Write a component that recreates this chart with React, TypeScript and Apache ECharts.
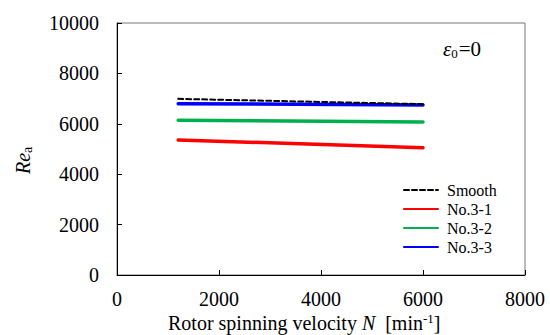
import React, { useEffect, useRef } from "react";
import * as echarts from "echarts";

const seriesNames = ["Smooth", "No.3-1", "No.3-2", "No.3-3"];
const speeds = [1200, 6000];
const smoothRe = [6990, 6780];
const no31Re = [5360, 5050];
const no32Re = [6140, 6070];
const no33Re = [6800, 6745];
const xTicks = [0, 2000, 4000, 6000, 8000];
const yTicks = [0, 2000, 4000, 6000, 8000, 10000];

const FONT = "serif";

export default function App() {
  const ref = useRef<HTMLDivElement>(null);
  useEffect(() => {
    document.body.style.margin = "0";
    if (!ref.current) return;
    const chart = echarts.init(ref.current, null, { renderer: "svg" });
    const mk = (vals: number[]) => speeds.map((s, i) => [s, vals[i]]);
    const colors = ["#000000", "#ff0000", "#00b050", "#0000ff"];
    const data = [smoothRe, no31Re, no32Re, no33Re];
    chart.setOption({
      animation: false,
      backgroundColor: "#ffffff",
      textStyle: { fontFamily: FONT },
      grid: {
        left: 117,
        top: 23,
        width: 408,
        height: 252,
        show: true,
        borderColor: "#777777",
        borderWidth: 1,
        backgroundColor: "transparent",
      },
      xAxis: {
        type: "value",
        min: xTicks[0],
        max: xTicks[xTicks.length - 1],
        interval: 2000,
        axisLine: { show: true, lineStyle: { color: "#000", width: 1 } },
        axisTick: { show: true, inside: true, length: 5, lineStyle: { color: "#000" } },
        splitLine: { show: false },
        axisLabel: { show: false },
      },
      yAxis: {
        type: "value",
        min: yTicks[0],
        max: yTicks[yTicks.length - 1],
        interval: 2000,
        axisLine: { show: true, lineStyle: { color: "#000", width: 1 } },
        axisTick: { show: true, inside: true, length: 5, lineStyle: { color: "#000" } },
        splitLine: { show: false },
        axisLabel: { show: false },
      },
      legend: {
        orient: "vertical",
        left: 398,
        top: 177,
        itemWidth: 34,
        itemHeight: 10,
        itemGap: 3,
        data: seriesNames,
        itemStyle: { opacity: 0 },
        lineStyle: { width: 2 },
        textStyle: { color: "#000", fontSize: 16, fontFamily: FONT, padding: [0, 0, 0, 4] },
        selectedMode: false,
      },
      series: seriesNames.map((name, i) => ({
        name,
        type: "line",
        data: mk(data[i]),
        symbol: "none",
        showSymbol: false,
        z: i === 0 ? 5 : 3,
        lineStyle: {
          color: colors[i],
          width: i === 0 ? 2 : 3.5,
          type: i === 0 ? [5, 3] : "solid",
          cap: "round",
        },
        itemStyle: { color: colors[i] },
      })),
    });

    const xLabels = xTicks.map((v) => {
      const p = chart.convertToPixel({ gridIndex: 0 }, [v, 0]) as number[];
      return {
        type: "text",
        x: p[0],
        y: p[1] + 24,
        silent: true,
        style: {
          text: String(v),
          fill: "#000",
          fontSize: 20,
          fontFamily: FONT,
          align: "center",
          verticalAlign: "middle",
        },
      };
    });
    const yLabels = yTicks.map((v) => {
      const p = chart.convertToPixel({ gridIndex: 0 }, [0, v]) as number[];
      return {
        type: "text",
        x: p[0] - 18,
        y: p[1],
        silent: true,
        style: {
          text: String(v),
          fill: "#000",
          fontSize: 20,
          fontFamily: FONT,
          align: "right",
          verticalAlign: "middle",
        },
      };
    });

    chart.setOption({
      graphic: [
        ...xLabels,
        ...yLabels,
        {
          type: "text",
          x: 443,
          y: 49,
          style: {
            text: "{e|ε}{s|0}{n|=0}",
            fill: "#000",
            fontSize: 20,
            fontFamily: FONT,
            verticalAlign: "middle",
            rich: {
              e: { fontStyle: "italic", fontSize: 21, fontFamily: FONT, fill: "#000" },
              s: { fontSize: 13, fontFamily: FONT, fill: "#000", padding: [8, 0, 0, 0] },
              n: { fontSize: 21, fontFamily: FONT, fill: "#000", padding: [0, 0, 0, 1] },
            },
          },
        },
        {
          type: "text",
          x: 168,
          y: 323,
          style: {
            text: "Rotor spinning velocity {i|N}  [min{sup|-1}]",
            fill: "#000",
            fontSize: 20,
            fontFamily: FONT,
            verticalAlign: "middle",
            rich: {
              i: { fontStyle: "italic", fontSize: 20, fontFamily: FONT, fill: "#000" },
              sup: { fontSize: 13, fontFamily: FONT, fill: "#000", padding: [0, 0, 9, 0] },
            },
          },
        },
        {
          type: "text",
          x: 11,
          y: 174,
          rotation: Math.PI / 2,
          style: {
            text: "{i|Re}{sub|a}",
            fill: "#000",
            fontSize: 20,
            fontFamily: FONT,
            rich: {
              i: { fontStyle: "italic", fontSize: 20, fontFamily: FONT, fill: "#000" },
              sub: { fontSize: 14, fontFamily: FONT, fill: "#000", padding: [9, 0, 0, 0] },
            },
          },
        },
      ],
    });
    return () => chart.dispose();
  }, []);
  return <div ref={ref} style={{ width: 550, height: 335 }} />;
}
